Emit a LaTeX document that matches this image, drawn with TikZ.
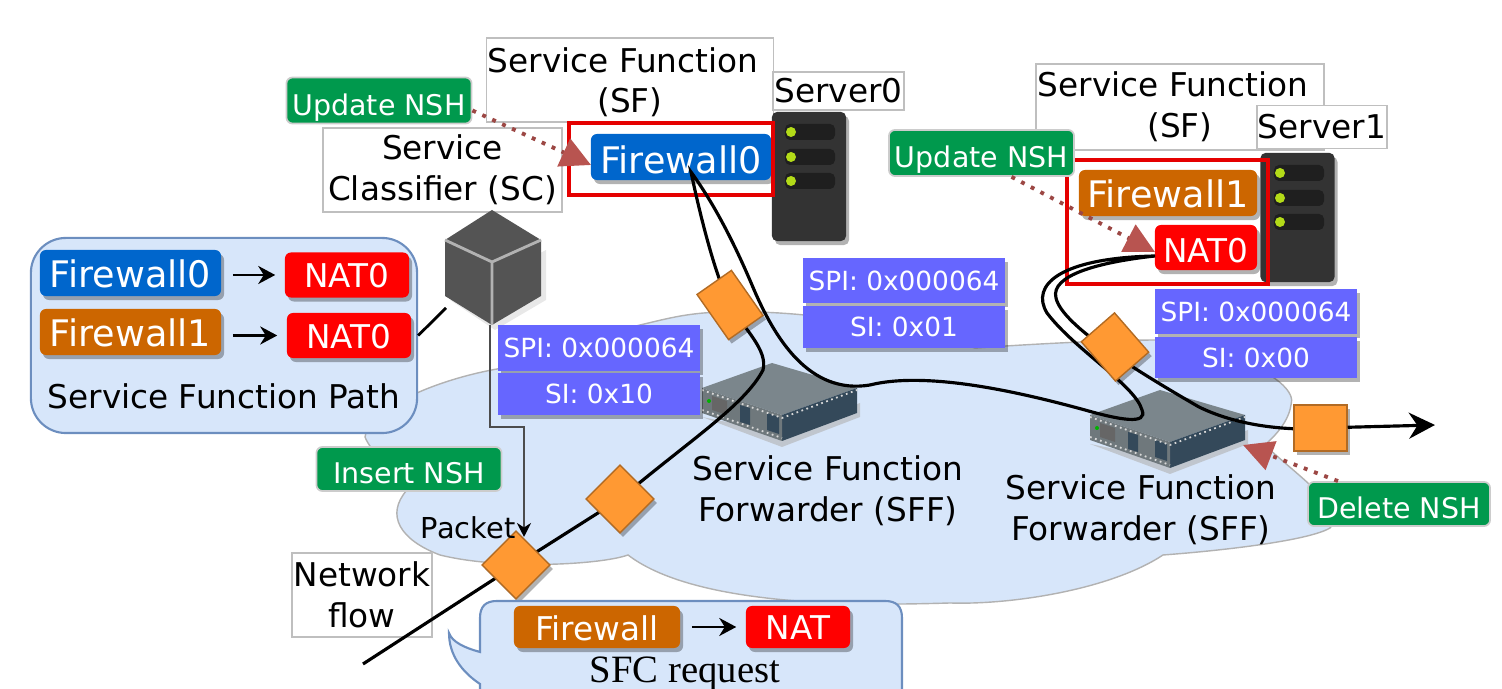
\documentclass[tikz,border=0pt]{standalone}
\usepackage{fontspec}
\setmainfont{DejaVu Sans}
\newfontfamily\reqfont{Liberation Serif}
\usetikzlibrary{arrows.meta,shadows}
\definecolor{cloudblue}{HTML}{D7E6FA}
\definecolor{boxedge}{HTML}{6C8EBF}
\definecolor{fwblue}{HTML}{0066CC}
\definecolor{fworange}{HTML}{CC6600}
\definecolor{natred}{HTML}{FF0000}
\definecolor{nshgreen}{HTML}{00994D}
\definecolor{spiblue}{HTML}{6666FF}
\definecolor{pktorange}{HTML}{FF9933}
\definecolor{dotred}{HTML}{B85450}
\definecolor{sfftop}{HTML}{7B868C}
\definecolor{sffside}{HTML}{34495A}
\definecolor{sfffront}{HTML}{6F787C}
\tikzset{
softshadow/.style={drop shadow={shadow xshift=0.03cm,shadow yshift=-0.04cm,fill=black,opacity=.3}},
textbox/.style={draw=black!25,line width=.4pt,fill=white,inner sep=0pt,align=center,font=\fontsize{9.3}{11.6}\selectfont},
plainlabel/.style={inner sep=0pt,align=center,font=\fontsize{9.3}{11.6}\selectfont},
chip/.style={rounded corners=.06cm,inner sep=0pt,text=white,softshadow},
fwzero/.style={chip,fill=fwblue,minimum width=1.8cm,minimum height=.46cm,text height=.34cm,text depth=0pt,font=\fontsize{10.4}{12}\selectfont},
fwone/.style={chip,fill=fworange,minimum width=1.8cm,minimum height=.46cm,text height=.3cm,text depth=0pt,font=\fontsize{10.4}{12}\selectfont},
natchip/.style={chip,fill=natred,minimum width=1.24cm,minimum height=.45cm,text height=.26cm,text depth=0pt,font=\fontsize{9.3}{11}\selectfont},
nshchip/.style={rounded corners=.06cm,inner sep=0pt,text=white,fill=nshgreen,draw=black!20,line width=.5pt,minimum width=1.85cm,minimum height=.46cm,text height=.3cm,text depth=0pt,font=\fontsize{8.1}{10}\selectfont},
spirow/.style={fill=spiblue,inner sep=0pt,text=white,minimum width=2.02cm,minimum height=.45cm,font=\fontsize{7.5}{9}\selectfont,softshadow},
packet/.style={fill=pktorange,draw=pktorange!70!black,line width=.4pt,inner sep=0pt,minimum width=.48cm,minimum height=.48cm,softshadow},
redframe/.style={draw=red!90!black,line width=1pt,fill=none,inner sep=0pt},
flow/.style={draw=black,line width=.9pt},
dotarrow/.style={draw=dotred!85!black,line width=1.1pt,dotted,-{Triangle[length=.3cm,width=.3cm,color=dotred,fill=dotred]}},
smallarrow/.style={draw=black,line width=.8pt,shorten <=.11cm,shorten >=.09cm,-{Stealth[length=.17cm,width=.18cm]}},
rack/.style={fill=black!80,rounded corners=.05cm,inner sep=0pt,minimum width=.74cm,minimum height=1.29cm,softshadow},
}
\newcommand{\rackslots}[2]{
  \foreach \dy in {20,45,69} {
    \fill[black!88,rounded corners=.05cm] (#1+13,#2+\dy-8) rectangle (#1+63,#2+\dy+8);
    \fill[yellow!70!green] (#1+19,#2+\dy) circle (.05cm);
  }
}
\newcommand{\sffdevice}[2]{
  \begin{scope}[shift={(#1,#2)}]
    \fill[black!30,opacity=.6] (0,54) -- (80,84) -- (158,54) -- (158,40) -- (80,70) -- cycle;
    \fill[sfftop] (70,0) -- (155,25) -- (80,52) -- (0,25) -- cycle;
    \fill[sffside] (80,52) -- (155,25) -- (155,50) -- (80,78) -- cycle;
    \fill[sfffront] (0,25) -- (80,52) -- (80,78) -- (0,50) -- cycle;
    \fill[black!60] (10,33) -- (25,38) -- (25,52) -- (10,47) -- cycle;
    \fill[sffside] (38,42) -- (48,45) -- (48,62) -- (38,59) -- cycle;
    \fill[sffside] (65,50) -- (77,54) -- (77,71) -- (65,67) -- cycle;
    \draw[white!70!gray,densely dotted,line width=.5pt] (0,27) -- (80,55) -- (155,27);
    \draw[white!70!gray,densely dotted,line width=.5pt] (0,47) -- (80,75);
    \fill[green!70!black] (7,38) circle (.02cm);
  \end{scope}
}

\begin{document}
\begin{tikzpicture}[x=0.01cm,y=-0.01cm]
\useasboundingbox (0,0) rectangle (1502,689);
\clip (0,0) rectangle (1502,689);
% cloud
\draw[fill=cloudblue,draw=black!30,line width=.4pt] (365,437)
  .. controls (370,405) and (450,375) .. (510,367)
  .. controls (560,362) and (600,335) .. (640,325)
  .. controls (670,318) and (690,312) .. (730,312)
  .. controls (800,310) and (900,325) .. (975,348)
  .. controls (1020,345) and (1100,340) .. (1160,340)
  .. controls (1220,345) and (1300,380) .. (1291,405)
  .. controls (1288,425) and (1270,440) .. (1265,445)
  .. controls (1290,470) and (1350,510) .. (1330,528)
  .. controls (1310,540) and (1230,550) .. (1163,555)
  .. controls (1110,590) and (1010,605) .. (950,603)
  .. controls (880,605) and (700,610) .. (628,555)
  .. controls (600,565) and (500,570) .. (440,555)
  .. controls (400,540) and (385,515) .. (407,490)
  .. controls (390,470) and (370,450) .. (365,437) -- cycle;
% text boxes
\node[textbox,minimum width=2.87cm,minimum height=.84cm,text depth=0pt] (sflabel0) at (630,80) {Service Function\hspace*{.14cm}\\(SF)};
\node[textbox,minimum width=1.31cm,minimum height=.38cm] (serverlabel0) at (838.5,91) {Server0};
\node[textbox,minimum width=2.39cm,minimum height=.84cm] (sclabel) at (442.5,170) {Service\\Classifier (SC)};
\node[textbox,minimum width=2.88cm,minimum height=.86cm] (sflabel1) at (1180,107) {Service Function\hspace*{.14cm}\\(SF)};
\node[textbox,minimum width=1.30cm,minimum height=.43cm] (serverlabel1) at (1322,127) {Server1};
\node[textbox,minimum width=1.40cm,minimum height=.84cm] (flowlabel) at (362,595) {Network\\flow};
% servers
\node[rack] (server0) at (809,176.5) {};
\rackslots{772}{112}
\node[rack] (server1) at (1297.5,217.5) {};
\rackslots{1261}{153}
% forwarders
\sffdevice{702}{363}
\sffdevice{1090}{390}
% classifier cube
\fill[black!15,opacity=.6] (450,300) -- (495,330) -- (546,300) -- (546,250) -- cycle;
\fill[black!67] (492,210) -- (541,240) -- (541,296) -- (492,325) -- (445,296) -- (445,240) -- cycle;
\draw[black!30,line width=.8pt] (445,240) -- (492,262) -- (541,240) (492,262) -- (492,325);
% service function path box
\node[fill=cloudblue,draw=boxedge,line width=.6pt,rounded corners=.35cm,minimum width=3.86cm,minimum height=1.95cm,inner sep=0pt] (sfpbox) at (224,335.5) {};
\coordinate (sclink) at (446,308);
\draw[line width=.8pt] (sfpbox.east) -- (sclink);
\node[fwzero,minimum width=1.81cm,text height=.3cm] (pathfw0) at (130.5,273) {Firewall0};
\node[natchip] (pathnat0) at (347,275) {NAT0};
\node[fwone,minimum width=1.81cm] (pathfw1) at (130.5,332) {Firewall1};
\node[natchip] (pathnat1) at (349,335.5) {NAT0};
\draw[smallarrow] (pathfw0.east |- pathnat0) -- (pathnat0);
\draw[smallarrow] (pathfw1.east |- pathnat1) -- (pathnat1);
\node[plainlabel] (pathlabel) at (224,396) {Service Function Path};
% service functions
\node[fwzero] (firewall0) at (681,157) {Firewall0};
\node[redframe,minimum width=2.04cm,minimum height=.72cm] (frame0) at (671,159) {};
\node[fwone,minimum width=1.78cm] (firewall1) at (1168,193) {Firewall1};
\node[natchip,minimum width=1.02cm,text height=.3cm] (nat0) at (1206,247.5) {NAT0};
\node[redframe,minimum width=2.01cm,minimum height=1.24cm] (frame1) at (1167.5,222) {};
% classifier to packet
\coordinate (sctip) at (490,325);
\coordinate (pkttip) at (524,537);
\draw[black!70,line width=.5pt,-{Stealth[length=.14cm,width=.14cm,black]}] (sctip) |- (524,427) -- (pkttip);
% flow
\coordinate (flowstart) at (363,664);
\coordinate (turn0) at (691,172);
\coordinate (turn1) at (1155,256);
\coordinate (flowend) at (1435,425);
\coordinate (pkta) at (516,565);
\coordinate (pktb) at (620,499);
\coordinate (pktc) at (730,305);
\draw[flow] (flowstart) -- (pkta) -- (pktb)
  .. controls (690,440) and (745,405) .. (763,370)
  .. controls (768,350) and (745,330) .. (pktc)
  .. controls (715,275) and (700,215) .. (turn0)
  .. controls (715,205) and (735,245) .. (752,285)
  .. controls (775,340) and (810,395) .. (870,385)
  .. controls (930,370) and (1030,395) .. (1085,410)
  .. controls (1120,420) and (1148,425) .. (1142,410)
  .. controls (1135,385) and (1075,350) .. (1047,313)
  .. controls (1030,285) and (1060,258) .. (turn1)
  .. controls (1100,262) and (1050,275) .. (1056,298)
  .. controls (1062,325) and (1135,370) .. (1199,407)
  .. controls (1230,422) and (1265,428) .. (1300,429);
\node[packet,minimum width=.53cm,minimum height=.46cm] (pkte) at (1320.5,428) {};
\draw[flow,-{Stealth[length=.26cm,width=.26cm]}] (pkte) -- (flowend);
\node[packet,rotate=-45] (packet0) at (pkta) {};
\node[packet,rotate=-45] (packet1) at (pktb) {};
\node[packet,rotate=-55,minimum width=.55cm,minimum height=.42cm] (packet2) at (pktc) {};
\node[packet,rotate=-49,minimum width=.52cm,minimum height=.44cm] (packet3) at (1115,347) {};
% headers
\node[spirow] (spi0) at (599,348) {SPI: 0x000064};
\node[spirow,minimum height=.42cm] (si0) at (599,394) {SI: 0x10};
\node[spirow] (spi1) at (904,280.5) {SPI: 0x000064};
\node[spirow,minimum height=.42cm] (si1) at (904,327) {SI: 0x01};
\node[spirow] (spi2) at (1256,311.5) {SPI: 0x000064};
\node[spirow,minimum height=.41cm] (si2) at (1256,357.5) {SI: 0x00};
% forwarder labels
\node[plainlabel] (sfflabel0) at (828,491) {Service Function\\Forwarder (SFF)};
\node[plainlabel] (sfflabel1) at (1141,510) {Service Function\\Forwarder (SFF)};
\node[plainlabel,font=\fontsize{8.2}{10}\selectfont,anchor=east] (pktlabel) at (516,528) {Packet};
% nsh actions
\node[nshchip] (update0) at (379,100.5) {Update NSH};
\node[nshchip] (update1) at (981.5,153) {Update NSH};
\node[nshchip,minimum height=.44cm] (insert) at (409,469) {Insert NSH};
\node[nshchip,minimum width=1.82cm,minimum height=.44cm] (delete) at (1399,504) {Delete NSH};
\coordinate (firewalltip) at (591,165);
\coordinate (nattip) at (1155,252);
\coordinate (sfftip) at (1243,445);
\draw[dotarrow] (update0.east) ++(0,10) -- (firewalltip);
\draw[dotarrow] (update1.south) ++(30,0) -- (nattip);
\draw[dotarrow] (delete.north) ++(-61,0) -- (sfftip);
% sfc request
\draw[fill=cloudblue,draw=boxedge,line width=.6pt] (480,652)
  .. controls (465,648) and (452,642) .. (449,633)
  .. controls (449,655) and (462,672) .. (480,684)
  -- (480,720) -- (902,720) -- (902,618)
  .. controls (902,606) and (896,601) .. (885,601) -- (497,601)
  .. controls (486,601) and (480,606) .. (480,618) -- cycle;
\node[fwone,minimum width=1.66cm,minimum height=.42cm,text height=.28cm,font=\fontsize{9.3}{11}\selectfont] (reqfw) at (597,627) {Firewall};
\node[natchip,minimum width=1.04cm,minimum height=.42cm] (reqnat) at (798,627) {NAT};
\draw[smallarrow] (reqfw) -- (reqnat);
\node[inner sep=0pt,font=\reqfont\fontsize{11}{13}\selectfont] (reqlabel) at (685,674) {SFC request};
\end{tikzpicture}
\end{document}
